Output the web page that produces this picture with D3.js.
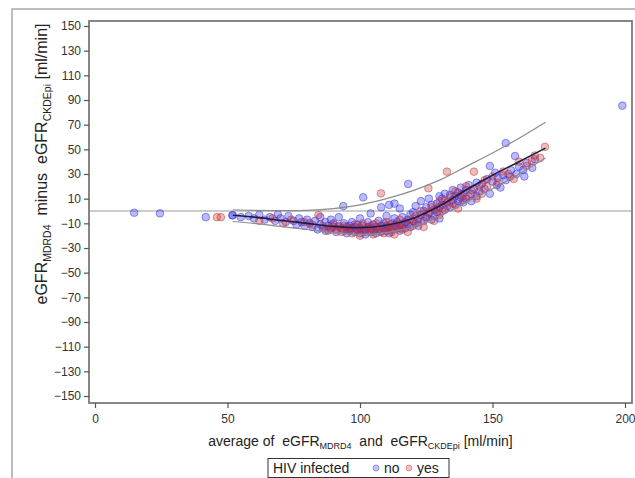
<!DOCTYPE html>
<html>
<head>
<meta charset="utf-8">
<script src="https://cdn.jsdelivr.net/npm/d3@7"></script>
<style>
  html, body { margin: 0; padding: 0; background: #fff; }
  svg { display: block; font-family: "Liberation Sans", Arial, sans-serif; }
  text { white-space: pre; }
</style>
</head>
<body>
<svg id="chart" width="635" height="478"></svg>
<script>
// ---- data ----
const xTicks = [0, 50, 100, 150, 200];
const yTicks = [-150, -130, -110, -90, -70, -50, -30, -10, 10, 30, 50, 70, 90, 110, 130, 150];

// HIV infected = no (blue)
const pointsNo = [
  [14.8,-1.4],[24.5,-1.9],[41.8,-5],[51.8,-3.5],
  [52,-3.5],[55,-5],[58,-4],[60,-6],[62,-3],[64,-7],[66,-5],[68,-8],[69,-2.7],[70,-6],[72,-9],[73,-4],[75,-8],[76,-11],[77,-6],[78,-9],[79,-12],[80,-7],
  [81,-10],[82,-13],[83,-8],[84,-15],[85,-11],[85,-5],[86,-14],[87,-9],[87,-16],[88,-12],[89,-7],[89,-15],[90,-13],[90,-10],[91,-17],[92,-12],[92,-5],[93,-14],[93.7,4],[94,-16],[94,-10],[95,-13],[95,-18],
  [96,-12],[96,-16],[97,-14],[97,-9],[98,-17],[98,-13],[99,-15],[99,-11],[100,-18],[100,-14],[100,-6],[101,-16],[101.2,11.1],[101,-12],[102,-15],[102,-19],[103,-13],[103,-9],[104,-17],[104,-14],[104,-2],[105,-16],[105,-11],[106,-18],[106,-13],[107,-15],[107,-8],[108,-12],[108,-17],[108,3],[109,-14],[109,-10],[110,-16],[110,-12],[110,-4],[111,-13],[111,-18],[112,-10],[112,-15],[113,-12],[113,-6],[114,-14],[114,-9],[115,-11],[115,-16],[115,2],[113,6],[111,5],
  [116,-12],[116,-5],[117,-9],[117,-14],[118,-7],[118.2,21.9],[118,-11],[119,-3],[119,-13],[120,-8],[120,-1],[121,-10],[121,4],[122,-6],[122,-12],[123,-3],[123,8],[124,-8],[124,0],[125,-5],[125,3],[126,-2],[126,10],[127,-7],[127,5],[128,1],[128,-4],[129,6],[129,-1],[130,3],[130,-6],[130,12],
  [131,5],[131,10],[132,1],[132,14],[133,7],[134,13],[134,3],[135,17],[135,9],[136,12],[136,5],[137,15],[137,8],[138,19],[138,11],[139,7],[139,14],[140,17],[140,10],[141,21],[142,14],[142,8],[143,18],[144,12],[144,23],[145,16],
  [146,22],[147,18],[148,26],[149,36.5],[149,14],[150,24],[151,31],[151.6,21],[152,27],[153,19],[154,29],[155,55],[155,25],[156.6,27.8],[157,33],[158.5,44.6],[159,30],[160,36],[161.6,33.2],[162,28],[163,39],[165,35],[166,42],
  [199,85.4]
];

// HIV infected = yes (red)
const pointsYes = [
  [46,-5],[47.5,-5],[62,-8],[67,-6],[71,-10],[74,-7],[79,-9],
  [82,-11],[84.3,-3.2],[86,-12],[88,-16],[89,-14],[90,-11],[91,-15],[92,-13],[93,-17],[94,-12],[95,-15],
  [96,-14],[97,-18],[98,-11],[99,-16],[100,-13],[100,-20],[101,-10],[102,-17],[103,-14],[104,-12],[105,-19],[105,-15],[106,-10],[107,-13],[108,-16],[107.9,14.3],[109,-18],[110,-14],[110,-9],[111,-11],[112,-17],[112,-13],[113,-19],[114,-11],[115,-14],[115,-7],
  [116,-15],[117,-10],[118,-17],[119,-7],[120,-12],[121,-4],[122,-9],[123,0],[124,-13],[125,-6],[125.8,18.4],[126,-1],[127,3],[128,-8],[129,2],[130,-3],[130,8],
  [131,0],[132,8],[132.8,31.9],[133,4],[134,11],[135,6],[136,16],[137,2],[138,13],[139,9],[140,20],[141,12],[142,17],[143,31.9],[144,10],[145,20],
  [146,14],[147,25],[148,20],[150,28],[152,23],[154,32],[156,30],[158,26],[160,40],[162.9,36.5],[164.8,40.8],[166,45],[168,43],[169.8,52]
];

// fitted curve and band limits
const fitX  = [52, 60, 70, 80, 90, 100, 110, 120, 130, 140, 150, 160, 170];
const fitMid   = [-3.5, -5, -7.5, -10, -12.5, -13.5, -11.5, -6, 4, 17, 29, 40, 51];
const fitUpper = [1, 0.5, 0.3, 0.5, 2, 5, 10, 16.5, 25, 36, 47, 59, 72];
const fitLower = [-8.5, -10, -12.5, -15, -17.5, -19, -17.5, -13, -4, 7, 18, 30, 43];

// ---- drawing ----
const svg = d3.select("#chart");
const frame = {left: 89, right: 632, top: 21, bottom: 403};
const x = d3.scaleLinear().domain([0, 200]).range([95, 625]);
const y = d3.scaleLinear().domain([-150, 150]).range([396, 26]);

// outer border
svg.append("rect").attr("x", 12).attr("y", 9).attr("width", 800).attr("height", 800)
  .attr("fill", "none").attr("stroke", "#a8a8a8").attr("stroke-width", 1.5);

// clip
svg.append("clipPath").attr("id", "clip").append("rect")
  .attr("x", frame.left).attr("y", frame.top)
  .attr("width", frame.right - frame.left).attr("height", frame.bottom - frame.top);

const plot = svg.append("g").attr("clip-path", "url(#clip)");

// zero reference line
plot.append("line")
  .attr("x1", frame.left).attr("x2", frame.right)
  .attr("y1", y(0)).attr("y2", y(0))
  .attr("stroke", "#999").attr("stroke-width", 1.2);

// points
function drawPts(data, col) {
  plot.append("g").selectAll("circle").data(data).join("circle")
    .attr("cx", d => x(d[0])).attr("cy", d => y(d[1])).attr("r", 3.8)
    .attr("fill", col).attr("fill-opacity", 0.33)
    .attr("stroke", col).attr("stroke-opacity", 0.5).attr("stroke-width", 1);
}
drawPts(pointsNo, "#3030e8");
drawPts(pointsYes, "#c83030");

// curves
const line = (ys) => d3.line().curve(d3.curveCatmullRom)
  .x((d, i) => x(fitX[i])).y(d => y(d))(ys);
plot.append("path").attr("d", line(fitUpper)).attr("fill", "none")
  .attr("stroke", "#8c8c8c").attr("stroke-width", 1.2);
plot.append("path").attr("d", line(fitLower)).attr("fill", "none")
  .attr("stroke", "#8c8c8c").attr("stroke-width", 1.2);
plot.append("path").attr("d", line(fitMid)).attr("fill", "none")
  .attr("stroke", "#1e1e3c").attr("stroke-width", 1.6);

// frame
svg.append("rect").attr("x", frame.left).attr("y", frame.top)
  .attr("width", frame.right - frame.left).attr("height", frame.bottom - frame.top)
  .attr("fill", "none").attr("stroke", "#7a7a7a").attr("stroke-width", 1.8);

// axes
const yAxis = svg.append("g").attr("transform", `translate(${frame.left},0)`)
  .call(d3.axisLeft(y).tickValues(yTicks).tickSize(5).tickPadding(3));
const xAxis = svg.append("g").attr("transform", `translate(0,${frame.bottom})`)
  .call(d3.axisBottom(x).tickValues(xTicks).tickSize(5).tickPadding(6));
[yAxis, xAxis].forEach(g => {
  g.select(".domain").remove();
  g.selectAll(".tick line").attr("stroke", "#555").attr("stroke-width", 1.2);
  g.selectAll(".tick text").attr("fill", "#333").attr("font-size", 12)
    .attr("font-family", "'Liberation Sans', Arial, sans-serif");
});

// x axis title
const xt = svg.append("text").attr("x", (frame.left + frame.right) / 2).attr("y", 446)
  .attr("text-anchor", "middle").attr("font-size", 14).attr("fill", "#222");
xt.append("tspan").text("average of  eGFR");
xt.append("tspan").attr("font-size", 9).attr("dy", 3).text("MDRD4");
xt.append("tspan").attr("dy", -3).text("  and  eGFR");
xt.append("tspan").attr("font-size", 9).attr("dy", 3).text("CKDEpi");
xt.append("tspan").attr("dy", -3).text(" [ml/min]");

// y axis title
const yt = svg.append("text")
  .attr("transform", `translate(47,164) rotate(-90)`)
  .attr("text-anchor", "middle").attr("font-size", 16).attr("fill", "#222");
yt.append("tspan").text("eGFR");
yt.append("tspan").attr("font-size", 10.5).attr("dy", 3.5).text("MDRD4");
yt.append("tspan").attr("dy", -3.5).text("  minus  eGFR");
yt.append("tspan").attr("font-size", 10.5).attr("dy", 3.5).text("CKDEpi");
yt.append("tspan").attr("dy", -3.5).text(" [ml/min]");

// legend
const lg = svg.append("g");
lg.append("rect").attr("x", 268).attr("y", 458.5).attr("width", 181).attr("height", 19)
  .attr("fill", "#fff").attr("stroke", "#333").attr("stroke-width", 1);
lg.append("text").attr("x", 273).attr("y", 473).attr("font-size", 14).attr("fill", "#222").text("HIV infected");
lg.append("circle").attr("cx", 376).attr("cy", 468).attr("r", 3)
  .attr("fill", "#3030e8").attr("fill-opacity", 0.3).attr("stroke", "#3030e8").attr("stroke-opacity", 0.4);
lg.append("text").attr("x", 384).attr("y", 473).attr("font-size", 14).attr("fill", "#222").text("no");
lg.append("circle").attr("cx", 409).attr("cy", 468).attr("r", 3)
  .attr("fill", "#c83030").attr("fill-opacity", 0.3).attr("stroke", "#c83030").attr("stroke-opacity", 0.4);
lg.append("text").attr("x", 417).attr("y", 473).attr("font-size", 14).attr("fill", "#222").text("yes");
</script>
</body>
</html>
